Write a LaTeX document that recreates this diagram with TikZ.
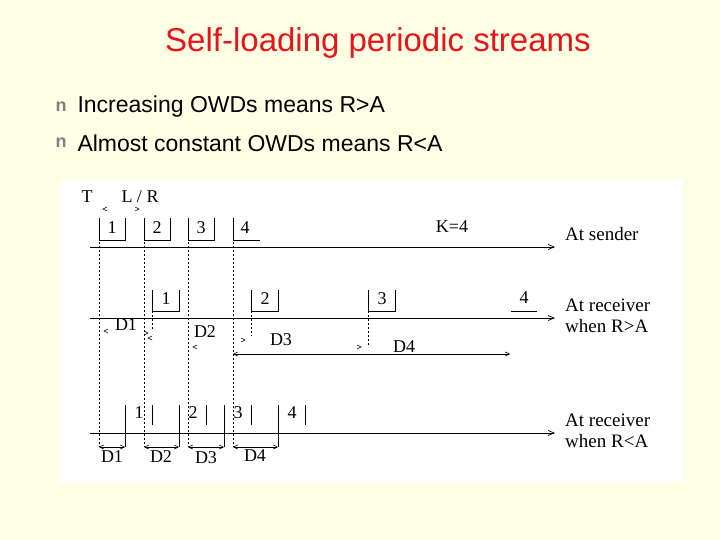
\documentclass[tikz,border=0pt]{standalone}
\usepackage{fontspec}
\setmainfont{Liberation Serif}
\newfontfamily\slidefont{Liberation Sans}
\usetikzlibrary{arrows.meta}
\definecolor{bg}{HTML}{FFFFE6}
\definecolor{ttl}{HTML}{E8141B}
\begin{document}
\begin{tikzpicture}[x=1pt,y=-1pt,
  lab/.style={font=\fontsize{18}{19}\selectfont,inner sep=0pt},
  rlab/.style={font=\fontsize{19}{21}\selectfont,inner sep=0pt,anchor=west,align=left},
  dline/.style={dashed,dash pattern=on 2pt off 2pt,line width=0.6pt},
  axis/.style={line width=0.7pt,-{Straight Barb[length=6pt,width=5pt]}},
  pk/.style={line width=0.7pt},
  dim/.style={line width=0.6pt,{Straight Barb[length=4pt,width=4pt]}-{Straight Barb[length=4pt,width=4pt]}},
  tip/.style={line width=0.5pt}]
\useasboundingbox (0,0) rectangle (720,540);
\fill[bg] (0,0) rectangle (720,540);
\node[text=ttl,font=\slidefont\fontsize{33}{36}\selectfont] (title) at (378,43) {Self-loading periodic streams};
\node[text=gray,font=\slidefont\fontsize{18}{18}\selectfont\bfseries] (b1) at (61,107) {n};
\node[text=gray,font=\slidefont\fontsize{18}{18}\selectfont\bfseries] (b2) at (61,143) {n};
\node[anchor=west,font=\slidefont\fontsize{23}{26}\selectfont] (t1) at (74,107) {Increasing OWDs means R>A};
\node[anchor=west,font=\slidefont\fontsize{23}{26}\selectfont] (t2) at (74,143) {Almost constant OWDs means R<A};
\fill[white] (60,180) rectangle (683,483);
% top label
\node[lab] (T) at (87,197) {T};
\node[lab] (LR) at (140,197) {L / R};
\draw[tip] (107,207)--(103,209)--(107,211);
\draw[tip] (135,207)--(139,209)--(135,211);
% dashed verticals
\foreach \x in {99,144,188,233} \draw[dline] (\x,218) -- (\x,447);
% sender
\coordinate (s0) at (90,247); \coordinate (s1) at (555,247);
\draw[axis] (s0) -- (s1);
\foreach \x/\n in {99/1,144/2,188/3} {
  \draw[pk] (\x,218) |- (\x+26,240) -- (\x+26,218);
  \node[lab] at (\x+13,228) {\n};}
\draw[pk] (233,218) |- (260,240);
\node[lab] at (245,228) {4};
\node[lab] (K) at (452,227) {K=4};
\node[rlab] (snd) at (565,234) {At sender};
% receiver R>A
\coordinate (r0) at (90,318); \coordinate (r1) at (555,318);
\draw[axis] (r0) -- (r1);
\foreach \x/\n in {152/1,251/2,368/3} {
  \draw[pk] (\x,290) |- (\x+27,311) -- (\x+27,290);
  \node[lab] at (\x+14,299) {\n};}
\draw[pk] (511,311) -- (537,311);
\node[lab] at (524,298) {4};
\draw[dline] (152,311) -- (152,331);
\draw[dline] (251,311) -- (251,336);
\draw[dline] (368,311) -- (368,347);
\node[lab] (D1a) at (126,325) {D1};
\node[lab] (D2a) at (205,332) {D2};
\node[lab] (D3a) at (281,340) {D3};
\node[lab] (D4a) at (404,347) {D4};
\draw[tip] (108,329)--(104,331)--(108,333);
\draw[tip] (144,331)--(148,333)--(144,335);
\draw[tip] (152,336)--(148,338)--(152,340);
\draw[tip] (197,345)--(193,347)--(197,349);
\draw[tip] (241,338)--(245,340)--(241,342);
\draw[tip] (357,345)--(361,347)--(357,349);
\draw[dim] (233,354) -- (510,354);
\node[rlab] (rcv1) at (565,316) {At receiver\\when R>A};
% receiver R<A
\coordinate (q0) at (90,433); \coordinate (q1) at (555,433);
\draw[axis] (q0) -- (q1);
\foreach \a/\n/\b in {125/1/152,179/2/206,224/3/251,278/4/305} {
  \draw[pk] (\a,405) -- (\a,447);
  \draw[pk] (\b,405) -- (\b,425);
  \node[lab] at (\a+14,413) {\n};}
\draw[dim] (99,447) -- (125,447);
\draw[dim] (144,447) -- (179,447);
\draw[dim] (188,447) -- (224,447);
\draw[dim] (233,447) -- (278,447);
\node[lab] at (112,457) {D1};
\node[lab] at (161,457) {D2};
\node[lab] at (206,458) {D3};
\node[lab] at (255,456) {D4};
\node[rlab] (rcv2) at (565,431) {At receiver\\when R<A};
\end{tikzpicture}
\end{document}
